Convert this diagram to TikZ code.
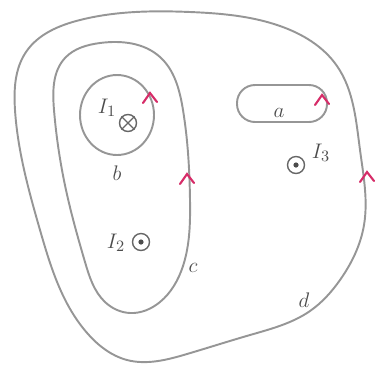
\documentclass[tikz,border=0pt]{standalone}
\usepackage{tikz}
\usetikzlibrary{hobby}
\definecolor{chevpink}{RGB}{214,44,104}
\definecolor{loopgray}{RGB}{150,150,150}
\begin{document}
\begin{tikzpicture}[x=0.02cm,y=-0.02cm,
    loop/.style={draw=loopgray,line width=1.1pt},
    chev/.style={draw=chevpink,line width=1.2pt,line cap=round},
    lbl/.style={inner sep=0pt,text=black!70,font=\fontsize{13}{15}\selectfont},
    cur/.style={circle,draw=black!60,line width=0.8pt,minimum size=0.34cm,inner sep=0pt},
  ]
  \useasboundingbox (0,0) rectangle (377,369);

  % loop d
  \draw[loop,use Hobby shortcut,closed=true]
    (190,12) .. (280,26) .. (337,66) .. (360,150) .. (364,225) .. (340,280)
    .. (310,311) .. (250,335) .. (187,354) .. (127,360) .. (88,334)
    .. (40,230) .. (15,110) .. (26,52) .. (80,20);

  % loop c
  \draw[loop,use Hobby shortcut,closed=true]
    (100,43) .. (160,57) .. (183,110) .. (190,200) .. (183,266) .. (160,302)
    .. (130,313) .. (105,302) .. (85,262) .. (66,190) .. (54,110) .. (65,58);

  % loop b
  \draw[loop] (117,115) ellipse [x radius=37,y radius=40];

  % loop a
  \draw[loop,rounded corners=0.36cm] (237,85) rectangle (327,122);

  % direction marks
  \foreach \x/\y in {150/93,187/174,322/95,367/172}
    \draw[chev] (\x-7,\y+10) -- (\x,\y) -- (\x+7,\y+9);

  % currents
  \node[cur] (i1) at (128,123) {};
  \draw[black!60,line width=0.7pt] (i1.45) -- (i1.225) (i1.135) -- (i1.315);
  \node[cur] (i2) at (141,242) {};
  \fill[black!70] (i2) circle (2.6);
  \node[cur] (i3) at (296,165) {};
  \fill[black!70] (i3) circle (2.6);

  \node[lbl] (l1) at (107,108) {$I_1$};
  \node[lbl] (l2) at (116,243) {$I_2$};
  \node[lbl] (l3) at (321,153) {$I_3$};

  % loop names
  \node[lbl] (na) at (279,113) {$a$};
  \node[lbl] (nb) at (117,173) {$b$};
  \node[lbl] (nc) at (193,268) {$c$};
  \node[lbl] (nd) at (304,300) {$d$};
\end{tikzpicture}
\end{document}
